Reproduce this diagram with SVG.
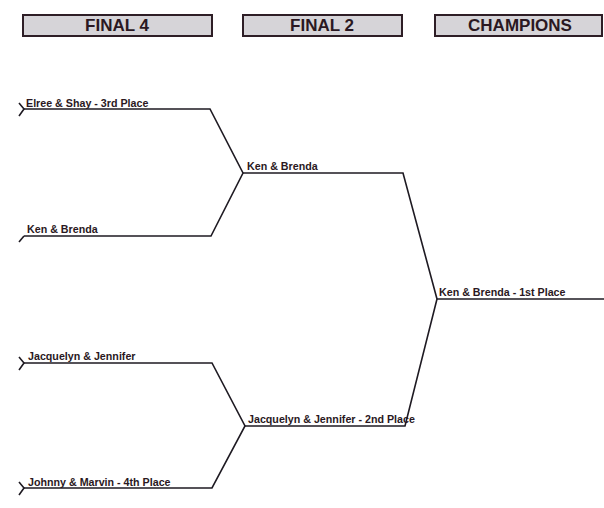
<svg xmlns="http://www.w3.org/2000/svg" width="604" height="508" viewBox="0 0 604 508">
<style>
.hdr rect{fill:#d6d4d8;stroke:#2e1e26;stroke-width:2}
.hdr text{font-family:"Liberation Sans",Arial,sans-serif;font-weight:bold;font-size:17px;fill:#2a1822;text-anchor:middle}
.lbl{font-family:"Liberation Sans",Arial,sans-serif;font-weight:bold;font-size:10.7px;fill:#2a1822}
.ln{fill:none;stroke:#1e1a22;stroke-width:1.6;stroke-linejoin:miter}
</style>
<rect width="604" height="508" fill="#ffffff"/>
<g id="hdr-final4" class="hdr"><rect x="23" y="15" width="189" height="21"/><text x="117" y="31">FINAL 4</text></g>
<g id="hdr-final2" class="hdr"><rect x="243" y="15" width="159" height="21"/><text x="322" y="31">FINAL 2</text></g>
<g id="hdr-champions" class="hdr"><rect x="435" y="15" width="167" height="21"/><text x="520" y="31">CHAMPIONS</text></g>
<g id="connectors" class="ln">
<path d="M19,103 L24,109 L19,116"/>
<path d="M19,242 L24,236"/>
<path d="M19,357 L24,363 L19,370"/>
<path d="M19,482 L24,488 L19,495"/>
<path d="M24,109 H210 L243,173 L211,236 H24"/>
<path d="M24,363 H212 L245,426 L212,488 H24"/>
<path d="M243,173 H403 L437,299 L405,426 H245"/>
<path d="M437,299 H604"/>
</g>
<g id="n-elree"><text class="lbl" x="26" y="107">Elree &amp; Shay - 3rd Place</text></g>
<g id="n-ken1"><text class="lbl" x="27" y="233">Ken &amp; Brenda</text></g>
<g id="n-jac1"><text class="lbl" x="28" y="360">Jacquelyn &amp; Jennifer</text></g>
<g id="n-johnny"><text class="lbl" x="28" y="486">Johnny &amp; Marvin - 4th Place</text></g>
<g id="n-ken2"><text class="lbl" x="247" y="170">Ken &amp; Brenda</text></g>
<g id="n-jac2"><text class="lbl" x="248" y="423">Jacquelyn &amp; Jennifer - 2nd Place</text></g>
<g id="n-champ"><text class="lbl" x="439" y="296">Ken &amp; Brenda - 1st Place</text></g>
</svg>
